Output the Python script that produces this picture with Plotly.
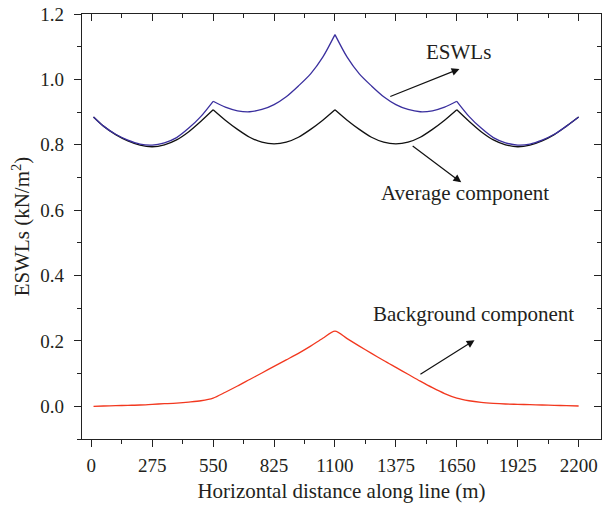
import plotly.graph_objects as go

# Horizontal distance along line (m)
distance = [10, 55, 110, 165, 220, 275, 330, 385, 440, 495, 550,
            605, 660, 715, 770, 825, 880, 935, 990, 1045, 1100,
            1155, 1210, 1265, 1320, 1375, 1430, 1485, 1540, 1595, 1650,
            1705, 1760, 1815, 1870, 1925, 1980, 2035, 2090, 2145, 2200]

eswl = [0.885, 0.857, 0.832, 0.814, 0.802, 0.799, 0.806, 0.822, 0.851, 0.887, 0.933,
        0.915, 0.904, 0.901, 0.908, 0.923, 0.947, 0.980, 1.017, 1.068, 1.137,
        1.068, 1.017, 0.980, 0.947, 0.923, 0.908, 0.901, 0.904, 0.915, 0.933,
        0.887, 0.851, 0.822, 0.806, 0.799, 0.802, 0.814, 0.832, 0.857, 0.885]

average = [0.885, 0.857, 0.831, 0.812, 0.799, 0.794, 0.800, 0.815, 0.840, 0.872, 0.907,
           0.875, 0.847, 0.823, 0.808, 0.803, 0.808, 0.823, 0.847, 0.875, 0.907,
           0.875, 0.847, 0.823, 0.808, 0.803, 0.808, 0.823, 0.847, 0.875, 0.907,
           0.872, 0.840, 0.815, 0.800, 0.794, 0.799, 0.812, 0.831, 0.857, 0.885]

background = [0.000, 0.001, 0.002, 0.003, 0.004, 0.006, 0.008, 0.010, 0.013, 0.017, 0.025,
              0.043, 0.062, 0.082, 0.102, 0.122, 0.142, 0.162, 0.184, 0.208, 0.230,
              0.207, 0.184, 0.162, 0.140, 0.119, 0.098, 0.077, 0.057, 0.039, 0.025,
              0.017, 0.012, 0.009, 0.007, 0.006, 0.005, 0.004, 0.003, 0.002, 0.001]

# spans between towers (indices into distance) - curves have cusps at towers
span_breaks = [0, 10, 20, 30, 40]

x_ticks = [0, 275, 550, 825, 1100, 1375, 1650, 1925, 2200]
y_ticks = [0.0, 0.2, 0.4, 0.6, 0.8, 1.0, 1.2]

FONT = "Liberation Serif"
AXC = "#222222"
TXT = "#231f20"

fig = go.Figure()

def add_spans(values, color):
    for a, b in zip(span_breaks[:-1], span_breaks[1:]):
        fig.add_trace(go.Scatter(x=distance[a:b + 1], y=values[a:b + 1], mode="lines",
                                 line=dict(color=color, width=1.3, shape="spline",
                                           smoothing=0.8),
                                 showlegend=False, hoverinfo="skip"))

add_spans(average, "#111111")
add_spans(eswl, "#3a2f9e")
fig.add_trace(go.Scatter(x=distance, y=background, mode="lines",
                         line=dict(color="#f2381f", width=1.3, shape="spline", smoothing=0.8),
                         showlegend=False))

xr = [-42, 2301]
yr = [-0.1, 1.2]

common_x = dict(range=xr, showgrid=False, zeroline=False, showline=True, automargin=False,
                linecolor=AXC, linewidth=1.3, tickcolor=AXC, tickwidth=1.2)
common_y = dict(range=yr, showgrid=False, zeroline=False, showline=True, automargin=False,
                linecolor=AXC, linewidth=1.3, tickcolor=AXC, tickwidth=1.2)

fig.update_layout(
    width=603, height=507,
    margin=dict(l=82, r=2, t=14, b=68),
    paper_bgcolor="white", plot_bgcolor="white",
    showlegend=False,
    font=dict(family=FONT, size=19, color=TXT),
    xaxis=dict(**common_x, tickmode="array", tickvals=x_ticks,
               ticktext=[str(v) for v in x_ticks],
               ticks="outside", ticklen=7, ticklabelstandoff=2,
               ticklabeloverflow="allow",
               minor=dict(ticks="outside", ticklen=4, tick0=0, dtick=137.5,
                          tickcolor=AXC, tickwidth=1.2),
               title=dict(text="Horizontal distance along line (m)", standoff=8,
                          font=dict(family=FONT, size=21, color=TXT)),
               tickfont=dict(family=FONT, size=19, color=TXT)),
    yaxis=dict(**common_y, tickmode="array", tickvals=y_ticks,
               ticktext=["%.1f" % v for v in y_ticks],
               ticks="outside", ticklen=7, ticklabelstandoff=6,
               ticklabeloverflow="allow",
               minor=dict(ticks="outside", ticklen=4, tick0=0, dtick=0.1,
                          tickcolor=AXC, tickwidth=1.2),
               title=dict(text="ESWLs (kN/m<sup>2</sup>)", standoff=4,
                          font=dict(family=FONT, size=21, color=TXT)),
               tickfont=dict(family=FONT, size=19, color=TXT)),
    xaxis2=dict(**common_x, overlaying="x", side="top", matches="x",
                tickmode="array", tickvals=x_ticks, showticklabels=False,
                ticks="inside", ticklen=7,
                minor=dict(ticks="inside", ticklen=4, tick0=0, dtick=137.5,
                           tickcolor=AXC, tickwidth=1.2)),
    yaxis2=dict(**common_y, overlaying="y", side="right", matches="y",
                tickmode="array", tickvals=y_ticks, showticklabels=False,
                ticks="inside", ticklen=7,
                minor=dict(ticks="inside", ticklen=4, tick0=0, dtick=0.1,
                           tickcolor=AXC, tickwidth=1.2)),
)

# invisible trace so that the mirrored (top/right) axes get drawn
fig.add_trace(go.Scatter(x=[None], y=[None], xaxis="x2", yaxis="y2", showlegend=False,
                         hoverinfo="skip"))

arrow = dict(showarrow=True, arrowhead=2, arrowsize=1.3, arrowwidth=1.2,
             arrowcolor="#111111", xref="x", yref="y", axref="x", ayref="y")
fig.add_annotation(x=1662, y=1.032, ax=1343, ay=0.946, text="", **arrow)
fig.add_annotation(x=1670, y=0.685, ax=1444, ay=0.800, text="", **arrow)
fig.add_annotation(x=1730, y=0.202, ax=1479, ay=0.095, text="", **arrow)

lab = dict(showarrow=False, xref="x", yref="y",
           font=dict(family=FONT, size=21, color=TXT))
fig.add_annotation(x=1658, y=1.085, text="ESWLs", **lab)
fig.add_annotation(x=1685, y=0.654, text="Average component", **lab)
fig.add_annotation(x=1725, y=0.281, text="Background component", **lab)

# remove the browser's default 8px page margin so the figure fills the window
fig.write_html("out.html", config={"displayModeBar": False},
               post_script="document.body.style.margin='0';document.body.style.overflow='hidden';")
